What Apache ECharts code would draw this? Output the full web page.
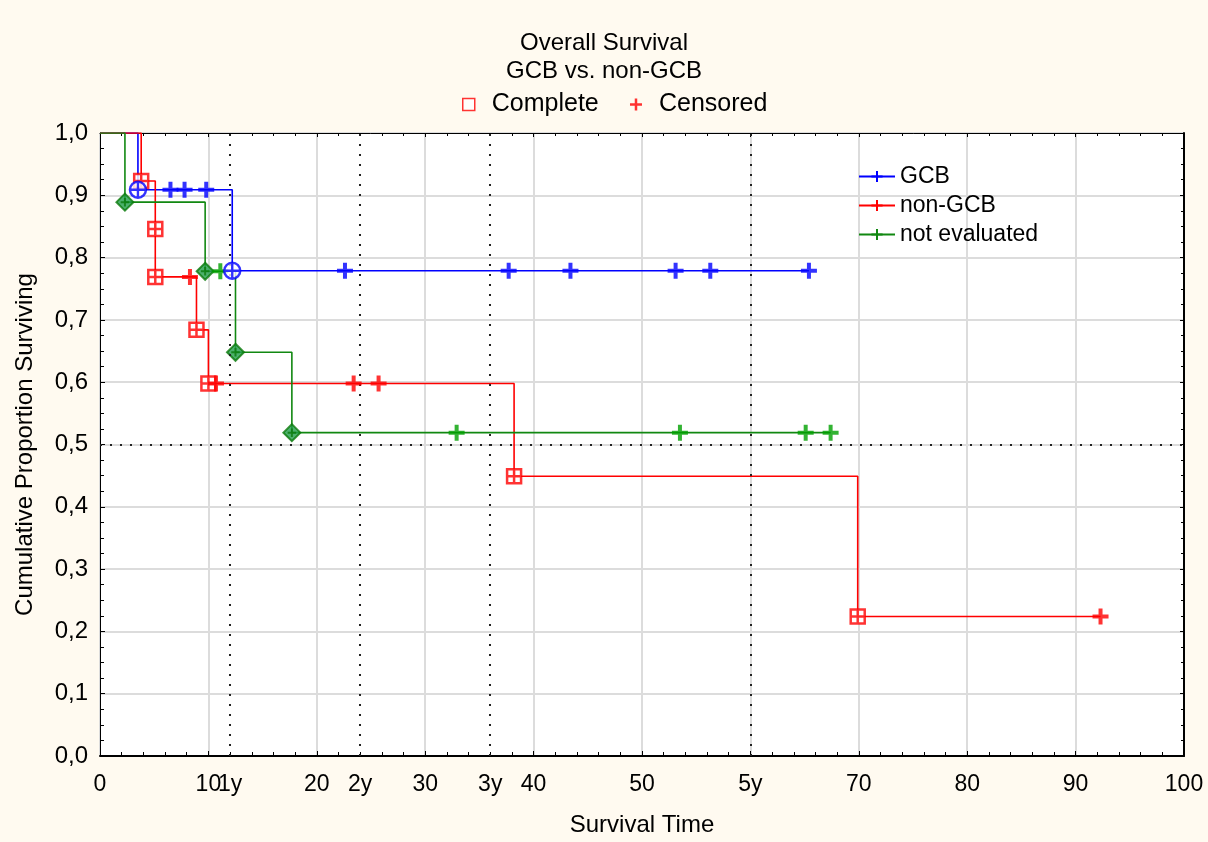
<!DOCTYPE html>
<html>
<head>
<meta charset="utf-8">
<title>Overall Survival</title>
<script src="https://cdn.jsdelivr.net/npm/echarts@6/dist/echarts.min.js"></script>
<style>
  html, body { margin: 0; padding: 0; background: #fffaf0; }
  #chart { width: 1208px; height: 842px; }
</style>
</head>
<body>
<div id="chart"></div>
<script>
// axis marks
const yearTicks = [12, 24, 36, 60];
const yearLabels = ['1y', '2y', '3y', '5y'];
const medianLine = 0.5;

// GCB
const gcbEventT = [3.5, 12.2];
const gcbEventS = [0.909, 0.779];
const gcbCensT = [6.5, 7.8, 9.8, 22.6, 37.7, 43.4, 53.1, 56.3, 65.4];
const gcbCensS = [0.909, 0.909, 0.909, 0.779, 0.779, 0.779, 0.779, 0.779, 0.779];

// non-GCB
const redEventT = [3.8, 5.1, 5.1, 8.9, 10.0, 38.2, 69.9];
const redEventS = [0.923, 0.846, 0.769, 0.684, 0.598, 0.449, 0.224];
const redCensT = [8.3, 10.7, 23.4, 25.7, 92.3];
const redCensS = [0.769, 0.598, 0.598, 0.598, 0.224];

// not evaluated
const grnEventT = [2.3, 9.7, 12.5, 17.7];
const grnEventS = [0.889, 0.778, 0.648, 0.519];
const grnCensT = [11.1, 32.9, 53.5, 65.1, 67.4];
const grnCensS = [0.778, 0.519, 0.519, 0.519, 0.519];

const FONT = "'Liberation Sans', Arial, sans-serif";
const plusPath = 'path://M5,0V10M0,5H10';
const sqCross = 'path://M0,0H10V10H0Z M5,0V10 M0,5H10';
// circle drawn as a polygon (16 sides) plus a cross
const circCross = 'path://M10,5L9.62,6.91L8.54,8.54L6.91,9.62L5,10L3.09,9.62L1.46,8.54L0.38,6.91L0,5L0.38,3.09L1.46,1.46L3.09,0.38L5,0L6.91,0.38L8.54,1.46L9.62,3.09Z M5,0L5,10 M0,5L10,5';
const diamCross = 'path://M5,0L10,5L5,10L0,5Z M5,2.5V7.5 M2.5,5H7.5';
const emptySq = 'path://M0,0H10V10H0Z';

function pairs(ts, ss) {
  return ts.map((t, i) => [t, ss[i]]);
}
// step curve: start at 1, events, then flat to the last censored time
function curve(eventT, eventS, censT) {
  const d = [[0, 1]].concat(pairs(eventT, eventS));
  const lastT = Math.max.apply(null, censT);
  d.push([lastT, eventS[eventS.length - 1]]);
  return d;
}

function kmLine(name, color, data, extra) {
  return Object.assign({
    name: name,
    type: 'line',
    step: 'end',
    data: data,
    symbol: plusPath,
    symbolSize: 12,
    showSymbol: false,
    lineStyle: { color: color, width: 1.6 },
    itemStyle: { color: color, borderColor: color, borderWidth: 2 },
    emphasis: { disabled: true },
    z: 2
  }, extra || {});
}

function marks(name, data, symbol, size, style, z) {
  return {
    name: name,
    type: 'scatter',
    data: data,
    symbol: symbol,
    symbolSize: size,
    itemStyle: style,
    emphasis: { disabled: true },
    z: z
  };
}

const chart = echarts.init(document.getElementById('chart'));

const tickStyle = { color: '#000' };

chart.setOption({
  backgroundColor: '#fffaf0',
  animation: false,
  textStyle: { fontFamily: FONT },
  title: {
    text: 'Overall Survival\nGCB vs. non-GCB',
    left: 'center',
    top: 29,
    padding: 0,
    textStyle: { fontSize: 24, fontWeight: 'normal', color: '#000', lineHeight: 28, fontFamily: FONT }
  },
  legend: [{
    data: [
      { name: 'Complete', icon: emptySq, itemStyle: { color: '#fff', borderColor: '#ff0000', borderWidth: 1.5 } },
      { name: 'Censored', icon: plusPath, itemStyle: { color: '#ff0000', borderColor: '#ff0000', borderWidth: 2.5 } }
    ],
    left: 462,
    top: 92,
    padding: 0,
    itemWidth: 36,
    itemHeight: 12,
    itemGap: 30,
    selectedMode: false,
    textStyle: { fontSize: 25, color: '#000', fontFamily: FONT }
  }, {
    data: ['GCB', 'non-GCB', 'not evaluated'],
    orient: 'vertical',
    left: 858,
    top: 165,
    padding: 0,
    itemWidth: 36,
    itemHeight: 14,
    itemGap: 6,
    selectedMode: false,
    textStyle: { fontSize: 23, color: '#000', fontFamily: FONT }
  }],
  grid: {
    left: 100, right: 24, top: 133, bottom: 86,
    show: true, backgroundColor: '#ffffff', borderWidth: 0
  },
  xAxis: [{
    type: 'value',
    min: 0, max: 100, interval: 10,
    position: 'bottom',
    name: 'Survival Time',
    nameLocation: 'middle',
    nameGap: 57,
    nameTextStyle: { fontSize: 24, color: '#000', fontFamily: FONT },
    axisLine: { show: true, onZero: false, lineStyle: { color: '#000', width: 2 } },
    axisTick: { show: true, inside: true, length: 5, lineStyle: tickStyle },
    minorTick: { show: true, splitNumber: 5, length: 4, lineStyle: tickStyle },
    splitLine: { show: true, lineStyle: { color: '#dcdcdc', width: 2 } },
    axisLabel: {
      color: '#000', fontSize: 23, margin: 17, fontFamily: FONT,
      formatter: v => (v === 60 ? '' : String(v))
    }
  }, {
    type: 'value',
    min: 0, max: 100,
    position: 'bottom',
    axisLine: { show: false },
    axisTick: { show: false },
    splitLine: { show: false },
    axisLabel: {
      color: '#000', fontSize: 23, margin: 17, fontFamily: FONT,
      customValues: yearTicks,
      formatter: v => yearLabels[yearTicks.indexOf(v)] || ''
    }
  }, {
    type: 'value',
    min: 0, max: 100, interval: 10,
    position: 'top',
    axisLine: { show: true, onZero: false, lineStyle: { color: '#000', width: 1 } },
    axisTick: { show: true, inside: true, length: 4, lineStyle: tickStyle },
    minorTick: { show: true, splitNumber: 5, length: 3, lineStyle: tickStyle },
    splitLine: { show: false },
    axisLabel: { show: false }
  }],
  yAxis: [{
    type: 'value',
    min: 0, max: 1, interval: 0.1,
    position: 'left',
    name: 'Cumulative Proportion Surviving',
    nameLocation: 'middle',
    nameGap: 63,
    nameRotate: 90,
    nameTextStyle: { fontSize: 24, color: '#000', fontFamily: FONT },
    axisLine: { show: true, onZero: false, lineStyle: { color: '#000', width: 1 } },
    axisTick: { show: true, inside: true, length: 5, lineStyle: tickStyle },
    minorTick: { show: true, splitNumber: 4, length: 4, lineStyle: tickStyle },
    splitLine: { show: true, lineStyle: { color: '#dcdcdc', width: 2 } },
    axisLabel: {
      color: '#000', fontSize: 24, margin: 12, fontFamily: FONT,
      formatter: v => v.toFixed(1).replace('.', ',')
    }
  }, {
    type: 'value',
    min: 0, max: 1, interval: 0.1,
    position: 'right',
    axisLine: { show: true, onZero: false, lineStyle: { color: '#000', width: 2 } },
    axisTick: { show: true, inside: true, length: 4, lineStyle: tickStyle },
    minorTick: { show: true, splitNumber: 4, length: 3, lineStyle: tickStyle },
    splitLine: { show: false },
    axisLabel: { show: false }
  }],
  series: [
    kmLine('GCB', '#0000ff', curve(gcbEventT, gcbEventS, gcbCensT), {
      markLine: {
        silent: true,
        symbol: 'none',
        label: { show: false },
        lineStyle: { color: '#222', type: [2, 8], width: 2 },
        data: yearTicks.map(v => ({ xAxis: v })).concat([{ yAxis: medianLine }])
      }
    }),
    kmLine('non-GCB', '#ff0000', curve(redEventT, redEventS, redCensT)),
    kmLine('not evaluated', '#118811', curve(grnEventT, grnEventS, grnCensT)),

    // complete (event) markers
    marks('gcbComplete', pairs(gcbEventT, gcbEventS), circCross, 16,
      { color: '#ffffff', borderColor: '#0000ff', borderWidth: 2.4 }, 6),
    marks('redComplete', pairs(redEventT, redEventS), sqCross, 14,
      { color: '#ffffff', borderColor: '#ff0000', borderWidth: 2.5 }, 4),
    marks('grnComplete', pairs(grnEventT, grnEventS), diamCross, 17,
      { color: '#1f9d48', borderColor: '#0b7a0b', borderWidth: 2 }, 4),

    // censored markers
    marks('gcbCensored', pairs(gcbCensT, gcbCensS), plusPath, 16,
      { color: '#0000ff', borderColor: '#0000ff', borderWidth: 4 }, 5),
    marks('redCensored', pairs(redCensT, redCensS), plusPath, 16,
      { color: '#ff0000', borderColor: '#ff0000', borderWidth: 4 }, 5),
    marks('grnCensored', pairs(grnCensT, grnCensS), plusPath, 16,
      { color: '#00a000', borderColor: '#00a000', borderWidth: 4 }, 5),

    // entries for the top legend only
    { name: 'Complete', type: 'scatter', data: [], symbol: emptySq,
      itemStyle: { color: '#fff', borderColor: '#ff0000', borderWidth: 1.5 } },
    { name: 'Censored', type: 'scatter', data: [], symbol: plusPath,
      itemStyle: { color: '#ff0000', borderColor: '#ff0000', borderWidth: 2.5 } }
  ]
});
</script>
</body>
</html>
